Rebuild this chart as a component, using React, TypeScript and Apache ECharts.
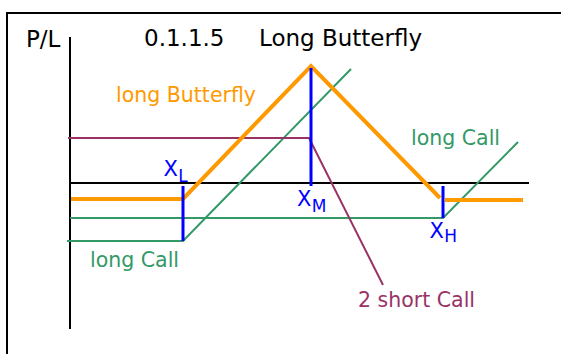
import React, { useEffect, useRef } from "react";
import * as echarts from "echarts";

// Strike prices (price units along the horizontal axis)
const strikes = { XL: 113, XM: 241, XH: 373 };

// Payoff profiles: [price, profit/loss]
const butterflyLeft: number[][] = [[1, -16], [113, -16], [241, 117], [370, -15]];
const butterflyRight: number[][] = [[375, -17], [453, -17]];
const longCallLow: number[][] = [[-3, -58], [113, -58], [281, 114]];
const longCallHigh: number[][] = [[0, -35], [373, -35], [448, 41]];
const shortCalls: number[][] = [[-2, 45], [239, 45], [313, -102]];
const zeroLine: number[][] = [[0, 0], [459, 0]];
const plAxis: number[][] = [[0, 146], [0, -146]];
const strikeLines: number[][][] = [
  [[strikes.XL, -3], [strikes.XL, -58]],
  [[strikes.XM, 115], [strikes.XM, -3]],
  [[strikes.XH, -3], [strikes.XH, -35]],
];

const FONT = "DejaVu Sans";
const ORANGE = "#FF9900";
const GREEN = "#339966";
const PURPLE = "#993366";
const BLUE = "#0000FF";

function line(data: number[][], color: string, width: number, z: number) {
  return {
    type: "line",
    data,
    symbol: "none",
    silent: true,
    z,
    lineStyle: { color, width, cap: "butt", join: "miter" },
  };
}

function txt(text: string, x: number, y: number, size: number, color: string) {
  return {
    type: "text",
    x,
    y,
    silent: true,
    z: 100,
    style: {
      text,
      fill: color,
      font: `${size}px "${FONT}"`,
      textAlign: "left",
      textVerticalAlign: "middle",
    },
  };
}

export default function App() {
  const ref = useRef<HTMLDivElement>(null);
  useEffect(() => {
    const chart = echarts.init(ref.current!, undefined, { renderer: "svg" });
    chart.setOption({
      animation: false,
      backgroundColor: "#ffffff",
      grid: { left: 0, right: 0, top: 0, bottom: 0 },
      xAxis: { type: "value", min: -70, max: 491, show: false },
      yAxis: { type: "value", min: -171, max: 183, show: false },
      series: [
        line(plAxis, "#000000", 2, 1),
        line(zeroLine, "#000000", 2, 1),
        line(longCallLow, GREEN, 2, 2),
        line(longCallHigh, GREEN, 2, 2),
        line(shortCalls, PURPLE, 2, 3),
        line(butterflyLeft, ORANGE, 4, 4),
        line(butterflyRight, ORANGE, 4, 4),
        ...strikeLines.map((d) => line(d, BLUE, 3, 5)),
      ],
      graphic: [
        {
          type: "rect",
          shape: { x: 7, y: 13, width: 700, height: 500 },
          style: { fill: "none", stroke: "#000000", lineWidth: 2 },
          silent: true,
        },
        txt("P/L", 26, 38.7, 23, "#000000"),
        txt("0.1.1.5", 144, 37.7, 23, "#000000"),
        txt("Long Butterfly", 259, 37.7, 23, "#000000"),
        txt("long Butterfly", 116, 95, 20.5, ORANGE),
        txt("long Call", 411, 138, 20.5, GREEN),
        txt("long Call", 90, 260, 20.5, GREEN),
        txt("2 short Call", 358, 299.6, 20.5, PURPLE),
        txt("X", 163.5, 168.7, 21, BLUE),
        txt("L", 178.2, 176.3, 17, BLUE),
        txt("X", 297, 198.7, 21, BLUE),
        txt("M", 311.7, 206.3, 17, BLUE),
        txt("X", 429.5, 231, 21, BLUE),
        txt("H", 444.2, 236, 17, BLUE),
      ],
    });
    return () => chart.dispose();
  }, []);
  return (
    <div
      ref={ref}
      style={{ position: "absolute", left: 0, top: 0, width: 561, height: 354 }}
    />
  );
}
